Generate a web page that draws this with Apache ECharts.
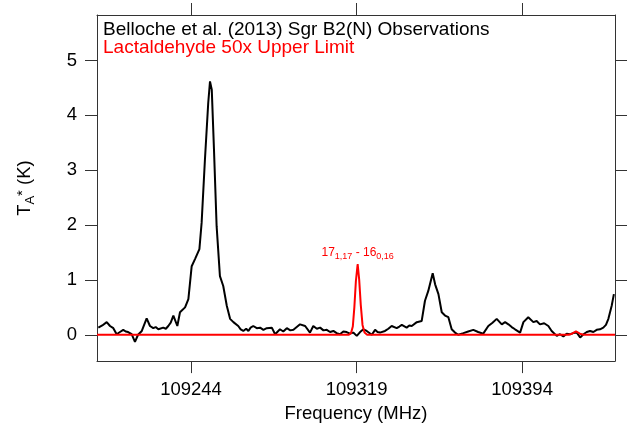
<!DOCTYPE html>
<html>
<head>
<meta charset="utf-8">
<script src="https://cdn.jsdelivr.net/npm/echarts@6.0.0/dist/echarts.min.js"></script>
<style>
  html, body { margin: 0; padding: 0; background: #fff; }
  #chart { width: 631px; height: 428px; }
</style>
</head>
<body>
<div id="chart"></div>
<script>
// Sgr B2(N) spectrum (Belloche et al. 2013)
const obsFreq = [
  109202.0, 109203.8, 109205.8, 109207.3, 109208.8, 109210.3, 109211.8, 109213.3, 109214.4, 109215.5,
  109217.1, 109218.6, 109220.0, 109221.7, 109223.9, 109225.4, 109226.9, 109228.0, 109229.2, 109231.4,
  109232.6, 109233.7, 109234.8, 109236.0, 109237.8, 109239.0, 109241.3, 109242.8, 109244.3, 109245.8,
  109247.8, 109248.8, 109250.3, 109251.8, 109252.6, 109253.4, 109254.4, 109255.6, 109257.1, 109258.6,
  109260.2, 109261.7, 109263.2, 109265.4, 109266.5, 109267.7, 109269.0, 109270.0, 109271.0, 109272.2,
  109273.8, 109275.3, 109276.8, 109278.3, 109280.6, 109282.1, 109284.3, 109285.8, 109287.4, 109289.0,
  109290.4, 109291.9, 109293.4, 109295.7, 109297.9, 109299.4, 109301.0, 109302.5, 109304.0, 109305.5,
  109307.0, 109308.5, 109310.0, 109311.5, 109313.0, 109314.5, 109316.0, 109317.5, 109319.1, 109320.6,
  109322.1, 109323.6, 109325.9, 109327.4, 109328.5, 109329.6, 109331.9, 109333.4, 109334.9, 109337.2,
  109338.4, 109339.5, 109341.7, 109342.9, 109344.0, 109346.3, 109348.5, 109350.0, 109351.5, 109353.5,
  109354.6, 109356.1, 109357.6, 109359.1, 109360.6, 109362.1, 109363.6, 109365.1, 109367.4, 109369.6,
  109371.9, 109374.1, 109376.4, 109378.7, 109380.6, 109382.5, 109384.8, 109386.3, 109387.8, 109389.3,
  109390.8, 109393.1, 109394.6, 109396.8, 109399.1, 109400.6, 109402.1, 109404.0, 109405.9, 109407.4,
  109409.7, 109411.2, 109412.7, 109414.2, 109415.7, 109417.2, 109418.8, 109420.3, 109421.8, 109423.3,
  109424.8, 109426.3, 109427.8, 109429.3, 109430.8, 109432.0, 109433.1, 109434.6, 109435.6
];
const obsTa = [
  0.13, 0.17, 0.23, 0.16, 0.12, 0.01, 0.05, 0.09, 0.06, 0.05,
  0.01, -0.13, 0.00, 0.07, 0.30, 0.16, 0.12, 0.14, 0.10, 0.13,
  0.11, 0.16, 0.22, 0.35, 0.16, 0.41, 0.50, 0.65, 1.25, 1.38,
  1.56, 2.04, 3.19, 4.23, 4.62, 4.47, 3.38, 1.98, 1.07, 0.89,
  0.53, 0.29, 0.23, 0.16, 0.10, 0.07, 0.11, 0.07, 0.13, 0.16,
  0.12, 0.13, 0.09, 0.12, 0.13, 0.01, 0.10, 0.06, 0.12, 0.08,
  0.09, 0.14, 0.19, 0.16, 0.04, 0.16, 0.11, 0.13, 0.08, 0.09,
  0.05, 0.07, 0.03, 0.01, 0.06, 0.05, 0.02, 0.04, -0.02, 0.05,
  0.10, 0.07, 0.00, 0.09, 0.05, 0.04, 0.07, 0.11, 0.16, 0.12,
  0.15, 0.18, 0.13, 0.17, 0.16, 0.23, 0.25, 0.62, 0.80, 1.12,
  0.92, 0.74, 0.41, 0.35, 0.32, 0.10, 0.04, 0.00, 0.03, 0.06,
  0.09, 0.05, 0.02, 0.16, 0.22, 0.29, 0.19, 0.23, 0.19, 0.14,
  0.10, 0.04, 0.23, 0.32, 0.23, 0.25, 0.19, 0.21, 0.16, 0.07,
  -0.02, 0.01, -0.03, 0.02, 0.01, 0.03, 0.04, -0.05, 0.01, 0.05,
  0.07, 0.05, 0.09, 0.10, 0.13, 0.18, 0.29, 0.53, 0.74
];

// lactaldehyde model, 50x upper limit
const modelFreq = [109201.4, 109315.5, 109316.5, 109317.3, 109318.0, 109318.7, 109319.5, 109320.2, 109320.9, 109321.7, 109322.6, 109323.8,
  109415.0, 109416.6, 109418.4, 109420.2, 109421.8, 109436.1];
const modelTa = [0, 0, 0.03, 0.15, 0.50, 0.98, 1.29, 1.00, 0.55, 0.18, 0.04, 0,
  0, 0.02, 0.06, 0.02, 0, 0];

const xTicks = [109244, 109319, 109394];
const yTicks = [0, 1, 2, 3, 4, 5];
const xRange = [109201.4, 109436.1];
const yRange = [-0.48, 5.83];

const FONT = '"Liberation Sans", Arial, Helvetica, sans-serif';
const FRAME = '#333';

const chart = echarts.init(document.getElementById('chart'));

function frameAxis(extra) {
  return Object.assign({
    type: 'value',
    axisLine: { show: true, onZero: false, lineStyle: { color: FRAME, width: 1 } },
    splitLine: { show: false }
  }, extra);
}

const option = {
  animation: false,
  backgroundColor: '#fff',
  textStyle: { fontFamily: FONT },
  title: {
    left: 103,
    top: 21,
    padding: 0,
    text: '{a|Belloche et al. (2013) Sgr B2(N) Observations}\n{b|Lactaldehyde 50x Upper Limit}',
    textStyle: {
      fontWeight: 'normal',
      rich: {
        a: { fontFamily: FONT, fontSize: 19, fontWeight: 'normal', color: '#000', lineHeight: 18 },
        b: { fontFamily: FONT, fontSize: 19, fontWeight: 'normal', color: '#f00', lineHeight: 18 }
      }
    }
  },
  grid: { left: 97, right: 16, top: 15, bottom: 65.5 },
  xAxis: [
    frameAxis({
      position: 'bottom',
      min: xRange[0], max: xRange[1],
      axisTick: { show: true, inside: false, length: 12, customValues: xTicks, lineStyle: { color: FRAME } },
      axisLabel: { customValues: xTicks, formatter: v => String(v), margin: 19, fontSize: 18.5, color: '#000', fontFamily: FONT },
      name: 'Frequency (MHz)',
      nameLocation: 'middle',
      nameGap: 42,
      nameTextStyle: { fontSize: 18.5, color: '#000', fontFamily: FONT }
    }),
    frameAxis({
      position: 'top',
      min: xRange[0], max: xRange[1],
      axisTick: { show: true, inside: false, length: 12, customValues: xTicks, lineStyle: { color: FRAME } },
      axisLabel: { show: false }
    })
  ],
  yAxis: [
    frameAxis({
      position: 'left',
      min: yRange[0], max: yRange[1],
      axisTick: { show: true, inside: false, length: 12, customValues: yTicks, lineStyle: { color: FRAME } },
      axisLabel: { customValues: yTicks, formatter: v => String(v), margin: 20, fontSize: 18.5, color: '#000', fontFamily: FONT },
      name: '{t|T}{sub|A}{sup|*}{t| (K)}',
      nameLocation: 'middle',
      nameRotate: 90,
      nameGap: 60,
      nameTextStyle: {
        rich: {
          t: { fontFamily: FONT, fontSize: 18.5, color: '#000', lineHeight: 22, verticalAlign: 'top' },
          sub: { fontFamily: FONT, fontSize: 13, color: '#000', lineHeight: 13, padding: [13, 0, 0, 0], verticalAlign: 'bottom' },
          sup: { fontFamily: FONT, fontSize: 15, color: '#000', lineHeight: 15, verticalAlign: 'top' }
        }
      }
    }),
    frameAxis({
      position: 'right',
      min: yRange[0], max: yRange[1],
      axisTick: { show: true, inside: false, length: 12, customValues: yTicks, lineStyle: { color: FRAME } },
      axisLabel: { show: false }
    })
  ],
  series: [
    {
      name: 'Belloche et al. (2013) Sgr B2(N) Observations',
      type: 'line',
      data: obsFreq.map((f, i) => [f, obsTa[i]]),
      showSymbol: false,
      lineStyle: { color: '#000', width: 2 },
      z: 2
    },
    {
      name: 'Lactaldehyde 50x Upper Limit',
      type: 'line',
      data: modelFreq.map((f, i) => [f, modelTa[i]]),
      showSymbol: false,
      lineStyle: { color: '#f00', width: 2 },
      z: 3,
      markPoint: {
        symbol: 'circle',
        symbolSize: 1,
        itemStyle: { color: 'rgba(0,0,0,0)' },
        label: {
          show: true,
          position: 'top',
          distance: 3,
          formatter: '{n|17}{s|1,17}{n| - 16}{s|0,16}',
          rich: {
            n: { fontFamily: FONT, fontSize: 12, color: '#f00', lineHeight: 14, verticalAlign: 'top' },
            s: { fontFamily: FONT, fontSize: 9, color: '#f00', lineHeight: 9, padding: [6, 0, 0, 0], verticalAlign: 'bottom' }
          }
        },
        data: [{ coord: [109319.5, 1.29] }]
      }
    }
  ]
};

chart.setOption(option);
window.addEventListener('resize', () => chart.resize());
</script>
</body>
</html>
